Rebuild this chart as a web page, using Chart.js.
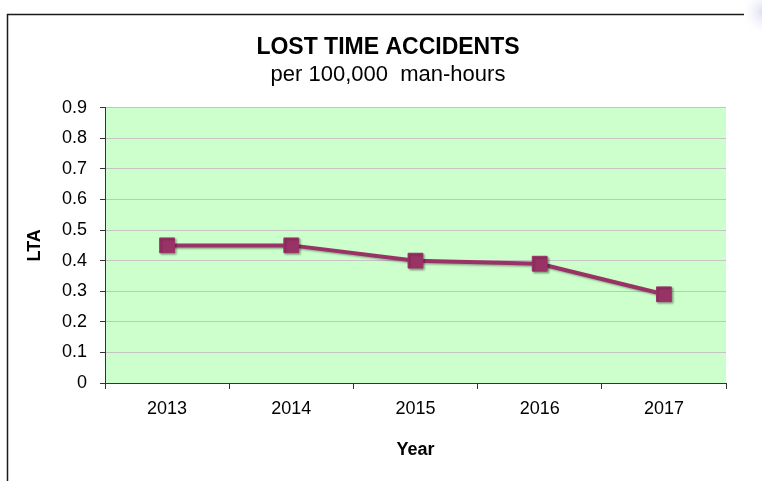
<!DOCTYPE html>
<html>
<head>
<meta charset="utf-8">
<script src="https://cdn.jsdelivr.net/npm/chart.js@4.4.1/dist/chart.umd.min.js"></script>
<style>
  html, body { margin: 0; padding: 0; background: #ffffff; }
  #cntLTA { position: relative; width: 762px; height: 481px; }
</style>
</head>
<body>
<div id="cntLTA"><canvas id="cntLTA_Grafica" width="762" height="481"></canvas></div>
<script>
var anios = ['2013', '2014', '2015', '2016', '2017'];
var valoresLTA = [0.45, 0.45, 0.40, 0.39, 0.29];
var ticksY = [0, 0.1, 0.2, 0.3, 0.4, 0.5, 0.6, 0.7, 0.8, 0.9];

var tituloGrafica = 'LOST TIME ACCIDENTS';
var subtituloGrafica = 'per 100,000  man-hours';

// marco de la diapositiva + fondo verde del area de trazado
var fondoPlugin = {
  id: 'fondoLTA',
  beforeDraw: function(chart) {
    var ctx = chart.ctx;
    var a = chart.chartArea;
    ctx.save();
    var g = ctx.createRadialGradient(764, 12, 2, 764, 12, 24);
    g.addColorStop(0, 'rgba(215,218,240,0.85)');
    g.addColorStop(1, 'rgba(255,255,255,0)');
    ctx.fillStyle = g;
    ctx.fillRect(735, 0, 27, 40);

    ctx.strokeStyle = '#1a1a1a';
    ctx.lineWidth = 1.5;
    ctx.beginPath();
    ctx.moveTo(7.5, 481);
    ctx.lineTo(7.5, 14.5);
    ctx.lineTo(744, 14.5);
    ctx.stroke();

    ctx.fillStyle = '#CCFFCC';
    ctx.fillRect(a.left, a.top, a.right - a.left, a.bottom - a.top);
    ctx.restore();
  },
  beforeDatasetsDraw: function(chart) {
    chart.ctx.save();
    chart.ctx.shadowColor = 'rgba(0,0,0,0.3)';
    chart.ctx.shadowOffsetX = 1.5;
    chart.ctx.shadowOffsetY = 1.5;
    chart.ctx.shadowBlur = 2;
  },
  afterDatasetsDraw: function(chart) {
    chart.ctx.restore();
  }
};

var ctx = document.getElementById('cntLTA_Grafica').getContext('2d');

window.cntLTA_Grafica_ = new Chart(ctx, {
  type: 'line',
  data: {
    labels: anios,
    datasets: [{
      label: 'LTA',
      data: valoresLTA,
      borderColor: '#993366',
      backgroundColor: '#993366',
      borderWidth: 4,
      tension: 0,
      pointStyle: 'rect',
      pointRadius: 10.5,
      pointBorderWidth: 1,
      pointBackgroundColor: '#993366',
      pointBorderColor: '#993366'
    }]
  },
  plugins: [fondoPlugin],
  options: {
    responsive: false,
    animation: false,
    layout: { padding: { left: 20, right: 6, top: 0, bottom: 16 } },
    plugins: {
      legend: { display: false },
      tooltip: { enabled: false },
      title: {
        display: true,
        text: tituloGrafica,
        color: '#000000',
        font: { family: 'Liberation Sans', size: 23, weight: 'bold', lineHeight: 1.15 },
        padding: { top: 34, bottom: 0 }
      },
      subtitle: {
        display: true,
        text: subtituloGrafica,
        color: '#000000',
        font: { family: 'Liberation Sans', size: 22, weight: 'normal', lineHeight: 1.15 },
        padding: { top: 2, bottom: 20 }
      }
    },
    scales: {
      x: {
        offset: true,
        grid: {
          offset: true,
          drawOnChartArea: false,
          drawTicks: true,
          tickLength: 6,
          tickColor: '#333333'
        },
        border: { color: '#333333', width: 1 },
        ticks: {
          color: '#000000',
          padding: 9,
          font: { family: 'Liberation Sans', size: 18 }
        },
        title: {
          display: true,
          text: 'Year',
          color: '#000000',
          font: { family: 'Liberation Sans', size: 18, weight: 'bold' },
          padding: { top: 4, bottom: 4 }
        },
        afterFit: function(scale) { scale.height = 82; }
      },
      y: {
        min: 0,
        max: 0.9,
        afterBuildTicks: function(scale) {
          scale.ticks = ticksY.map(function(v) { return { value: v }; });
        },
        grid: {
          color: '#c4c4c4',
          lineWidth: 1,
          drawTicks: true,
          tickLength: 5,
          tickColor: '#333333'
        },
        border: { color: '#333333', width: 1 },
        ticks: {
          color: '#000000',
          padding: 13,
          font: { family: 'Liberation Sans', size: 18 },
          callback: function(value) { return value === 0 ? '0' : value.toFixed(1); }
        },
        title: {
          display: true,
          text: 'LTA',
          color: '#000000',
          font: { family: 'Liberation Sans', size: 18, weight: 'bold' },
          padding: { top: 4, bottom: 4 }
        },
        afterFit: function(scale) { scale.width = 85; }
      },
      // margen derecho vacio, deja el area de trazado donde esta en la diapositiva
      yDer: {
        position: 'right',
        display: true,
        grid: { drawOnChartArea: false, drawTicks: false },
        border: { display: false },
        ticks: { display: false },
        afterFit: function(scale) { scale.width = 30; }
      }
    }
  }
});
</script>
</body>
</html>
